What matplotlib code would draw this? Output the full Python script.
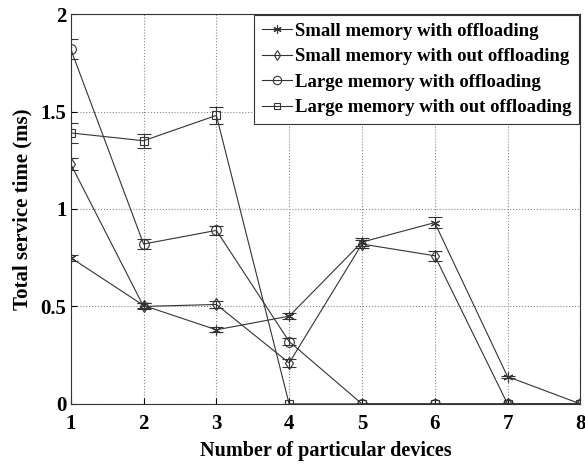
import numpy as np
import matplotlib
matplotlib.use("Agg")
import matplotlib.pyplot as plt
from matplotlib.lines import Line2D

plt.rcParams['font.family'] = ['Liberation Serif', 'DejaVu Serif']
plt.rcParams['font.weight'] = 'bold'

# donnees
devices = [1, 2, 3, 4, 5, 6, 7, 8]
small_off = [0.75, 0.505, 0.38, 0.45, 0.83, 0.93, 0.14, 0.0]
small_off_err = [0.015, 0.015, 0.012, 0.015, 0.02, 0.03, 0.005, 0.0]
small_nooff = [1.23, 0.50, 0.51, 0.21, 0.82, 0.76, 0.0, 0.0]
small_nooff_err = [0.03, 0.015, 0.02, 0.02, 0.02, 0.025, 0.0, 0.0]
large_off = [1.82, 0.82, 0.89, 0.32, 0.0, 0.0, 0.0, 0.0]
large_off_err = [0.05, 0.025, 0.025, 0.02, 0.0, 0.0, 0.0, 0.0]
large_nooff = [1.39, 1.35, 1.48, 0.0, 0.0, 0.0, 0.0, 0.0]
large_nooff_err = [0.05, 0.035, 0.045, 0.0, 0.0, 0.0, 0.0, 0.0]

labels = ["Small memory with offloading",
          "Small memory with out offloading",
          "Large memory with offloading",
          "Large memory with out offloading"]

fig = plt.figure(figsize=(5.85, 4.68), dpi=100)
ax = fig.add_axes([0.121, 0.137, 0.871, 0.833])

col = '#333333'
series = [
    (small_off, small_off_err, (6, 2, 0), 7),
    (small_nooff, small_nooff_err, 'd', 6),
    (large_off, large_off_err, 'o', 7),
    (large_nooff, large_nooff_err, 's', 6),
]
handles = []
for (y, e, m, ms), lab in zip(series, labels):
    ax.errorbar(devices, y, yerr=e, marker=m, markersize=ms, fillstyle='none',
                color=col, linewidth=0.8, markeredgewidth=0.8,
                elinewidth=0.8, capsize=5, capthick=0.8)
    handles.append(Line2D([], [], marker=m, markersize=ms - 1, fillstyle='none',
                          color=col, linewidth=0.8, markeredgewidth=0.8, label=lab))

ax.set_xlim(1, 8)
ax.set_ylim(0, 2)
ax.set_xticks(devices)
ax.set_yticks([0, 0.5, 1, 1.5, 2])
ax.set_yticklabels(["0", "0.5", "1", "1.5", "2"])
ax.tick_params(labelsize=15, direction='in', length=4)
ax.tick_params(axis='x', pad=7)
ax.tick_params(axis='y', pad=3)
for lbl in ax.get_xticklabels() + ax.get_yticklabels():
    lbl.set_fontweight('bold')
for sp in ax.spines.values():
    sp.set_color(col)
ax.grid(True, linestyle=':', color='#888888', linewidth=0.8)
ax.set_xlabel("Number of particular devices", fontsize=14.5, fontweight='bold', labelpad=5)
ax.set_ylabel("Total service time (ms)", fontsize=15, fontweight='bold', labelpad=6)

leg = ax.legend(handles=handles, loc='upper right', prop={'weight': 'bold', 'size': 13.5},
                fancybox=False, edgecolor=col, framealpha=1,
                handlelength=1.6, handletextpad=0.2, borderaxespad=0.05,
                borderpad=0.4, labelspacing=0.45)
leg.get_frame().set_linewidth(0.8)

fig.savefig("out.png", dpi=100)
